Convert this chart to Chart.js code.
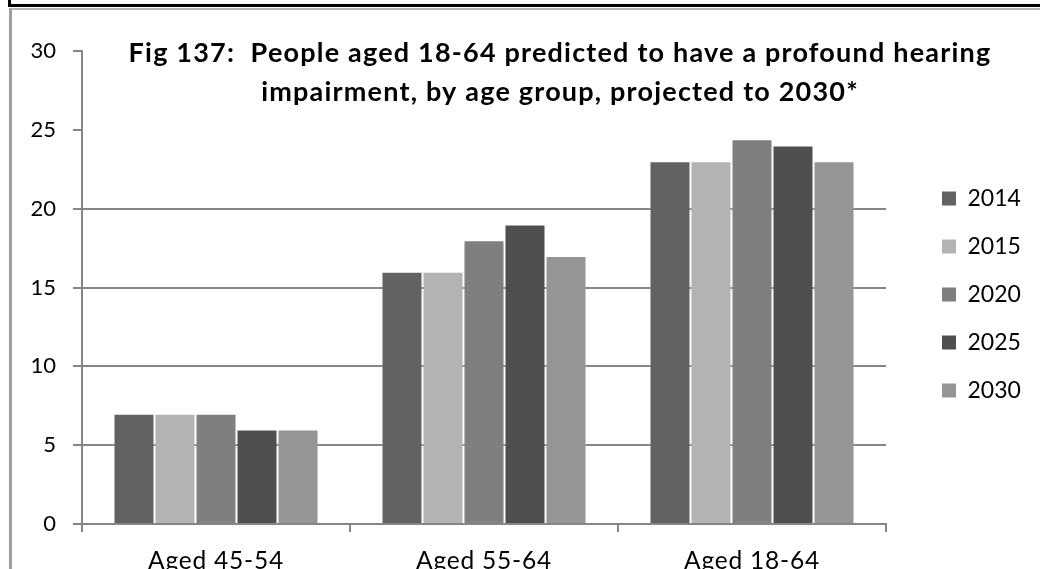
<!DOCTYPE html>
<html>
<head>
<meta charset="utf-8">
<title>Fig 137</title>
<script src="https://cdn.jsdelivr.net/npm/chart.js@4"></script>
<style>
  html, body { margin: 0; padding: 0; background: #ffffff; }
  #wrap { position: relative; width: 1040px; height: 569px; overflow: hidden; }
  canvas { display: block; }
</style>
</head>
<body>
<div id="wrap"><canvas id="chart" width="1040" height="569"></canvas></div>
<script>
// Age groups along the x axis
const categories = ['Aged 45-54', 'Aged 55-64', 'Aged 18-64'];
// Projection years (one bar series each)
const years = ['2014', '2015', '2020', '2025', '2030'];
// Predicted numbers of people per age group
const values2014 = [7, 16, 23];
const values2015 = [7, 16, 23];
const values2020 = [7, 18, 24.4];
const values2025 = [6, 19, 24];
const values2030 = [6, 17, 23];
// Value axis ticks
const yTicks = [0, 5, 10, 15, 20, 25, 30];
// Chart title lines
const titleLines = [
  'Fig 137:  People aged 18-64 predicted to have a profound hearing',
  'impairment, by age group, projected to 2030*'
];

const seriesValues = [values2014, values2015, values2020, values2025, values2030];
const seriesColors = ['#626262', '#b3b3b3', '#7f7f7f', '#4f4f4f', '#959595'];
const axisGray = '#868686';
const FONT = 'Lato, "Open Sans", "Liberation Sans", sans-serif';

// Page frame: dark rule of the box above and the grey outline of this chart
const framePlugin = {
  id: 'frame',
  beforeDraw(chart) {
    const ctx = chart.ctx;
    ctx.save();
    ctx.fillStyle = '#ffffff';
    ctx.fillRect(0, 0, chart.width, chart.height);
    ctx.fillStyle = '#000000';
    ctx.fillRect(8, 0, 3, 7);
    ctx.fillRect(8, 4, chart.width - 8, 3);
    ctx.fillStyle = '#a0a0a0';
    ctx.fillRect(9, 8, 3, chart.height - 8);
    ctx.fillStyle = '#b4b4b4';
    ctx.fillRect(11, 8, chart.width - 11, 2);
    ctx.restore();
  }
};

// Two-line bold title sitting over the top of the plot
const titlePlugin = {
  id: 'twoLineTitle',
  afterDraw(chart) {
    const ctx = chart.ctx;
    ctx.save();
    ctx.font = 'bold 27px ' + FONT;
    ctx.letterSpacing = '1.2px';
    ctx.fillStyle = '#000000';
    ctx.textAlign = 'center';
    ctx.textBaseline = 'alphabetic';
    ctx.fillText(titleLines[0], 560, 62);
    ctx.fillText(titleLines[1], 560, 101);
    ctx.restore();
  }
};

// Legend column beside the plot, and slightly wider spacing for category names
const layoutTweaks = {
  id: 'layoutTweaks',
  afterLayout(chart) {
    const lg = chart.legend;
    if (lg) {
      const dx = 942 - (lg.left + lg.options.labels.padding);
      const h = lg.bottom - lg.top;
      lg.left += dx;
      lg.right = chart.width;
      lg.width = lg.right - lg.left;
      lg.top = 162;
      lg.bottom = 162 + h;
    }
    const sx = chart.scales.x;
    if (sx && !sx._spacedLabels) {
      const orig = sx.drawLabels.bind(sx);
      sx.drawLabels = function (area) {
        const ctx = this.ctx;
        const prev = ctx.letterSpacing;
        ctx.letterSpacing = '0.8px';
        orig(area);
        ctx.letterSpacing = prev;
      };
      sx._spacedLabels = true;
    }
  }
};

const chart = new Chart(document.getElementById('chart'), {
  type: 'bar',
  data: {
    labels: categories,
    datasets: years.map((y, i) => ({
      label: y,
      data: seriesValues[i],
      backgroundColor: seriesColors[i],
      borderColor: 'rgba(255,255,255,0.25)',
      borderWidth: 1,
      categoryPercentage: 0.765,
      barPercentage: 1.0
    }))
  },
  options: {
    responsive: false,
    animation: false,
    devicePixelRatio: 1,
    layout: { padding: { top: 51, right: 54, bottom: 0, left: 0 } },
    plugins: {
      title: { display: false },
      tooltip: { enabled: false },
      legend: {
        display: true,
        position: 'right',
        align: 'start',
        maxWidth: 100,
        labels: {
          boxWidth: 14,
          boxHeight: 14,
          padding: 25,
          color: '#000000',
          font: { family: FONT, size: 23 },
          generateLabels(chart) {
            const items = Chart.defaults.plugins.legend.labels.generateLabels(chart);
            items.forEach(it => { it.lineWidth = 0; it.strokeStyle = 'transparent'; });
            return items;
          }
        }
      }
    },
    scales: {
      x: {
        offset: true,
        grid: {
          display: true,
          offset: true,
          drawOnChartArea: false,
          drawTicks: true,
          tickLength: 8,
          color: axisGray,
          lineWidth: 2
        },
        border: { display: true, color: axisGray, width: 2 },
        ticks: {
          color: '#000000',
          padding: 14,
          font: { family: FONT, size: 24.5 },
          maxRotation: 0
        },
        afterFit(scale) { scale.height = 45; }
      },
      y: {
        min: 0,
        max: 30,
        afterBuildTicks(scale) { scale.ticks = yTicks.map(v => ({ value: v })); },
        grid: {
          display: true,
          drawTicks: true,
          tickLength: 9,
          lineWidth: 2,
          color: (c) => (c.tick && c.tick.value >= 25 ? 'rgba(0,0,0,0)' : axisGray),
          tickColor: axisGray
        },
        border: { display: true, color: axisGray, width: 2 },
        ticks: {
          color: '#000000',
          padding: 17,
          font: { family: FONT, size: 22 }
        },
        afterFit(scale) { scale.width = 82; }
      }
    }
  },
  plugins: [framePlugin, layoutTweaks, titlePlugin]
});
</script>
</body>
</html>
